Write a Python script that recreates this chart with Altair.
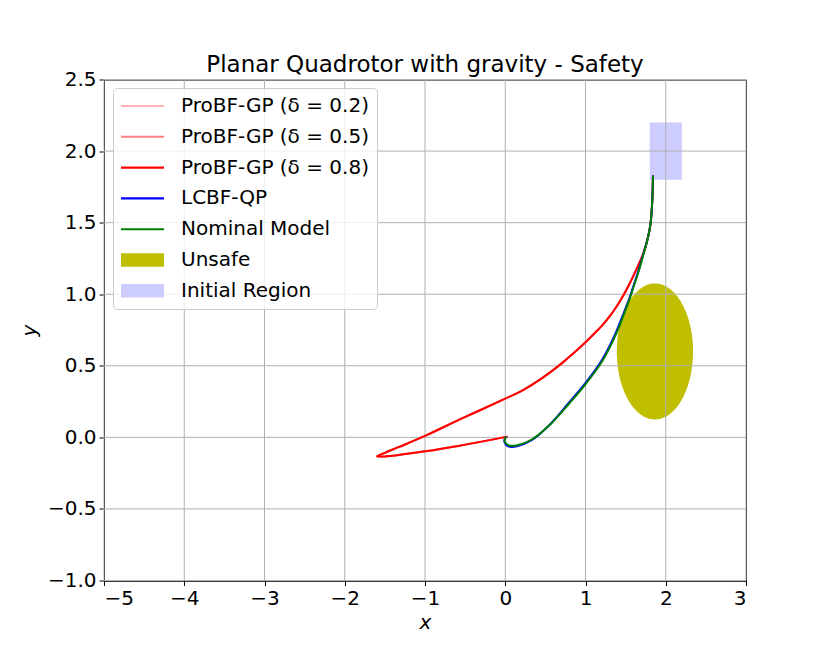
import altair as alt
import pandas as pd
import numpy as np

# ---------------- data ----------------
series_names = [
    "ProBF-GP (δ = 0.2)",
    "ProBF-GP (δ = 0.5)",
    "ProBF-GP (δ = 0.8)",
    "LCBF-QP",
    "Nominal Model",
    "Unsafe",
    "Initial Region",
]
series_colors = ["#ffb3b3", "#ff8080", "#ff0000", "#0000ff", "#008000", "#bfbf00", "#ccccff"]

# ProBF-GP trajectory (all three δ overlap)
probf_x = [1.841, 1.834, 1.812, 1.78, 1.72, 1.63, 1.53, 1.46, 1.4, 1.3, 1.2, 1.1, 1.0,
           0.85, 0.7, 0.45, 0.222, 0.0, -0.567, -1.0, -1.314, -1.50, -1.597, -1.5, -0.994,
           -0.567, 0.03]
probf_y = [1.829, 1.678, 1.50, 1.40, 1.284, 1.168, 1.052, 0.98, 0.925, 0.845, 0.777,
           0.72, 0.665, 0.588, 0.515, 0.41, 0.33, 0.27, 0.125, 0.01, -0.065, -0.108,
           -0.132, -0.134, -0.097, -0.058, 0.005]

# Nominal model trajectory
nominal_x = [1.841, 1.834, 1.812, 1.78, 1.725, 1.667, 1.60, 1.56, 1.467, 1.385, 1.218, 1.011,
             0.803, 0.56, 0.33, 0.15, 0.04, -0.005, 0.0, 0.02]
nominal_y = [1.829, 1.678, 1.50, 1.40, 1.284, 1.168, 1.052, 0.982, 0.843, 0.727, 0.541, 0.379,
             0.240, 0.09, -0.015, -0.055, -0.055, -0.03, -0.005, 0.004]

# LCBF-QP trajectory
lcbf_x = [1.841, 1.834, 1.812, 1.78, 1.722, 1.662, 1.594, 1.553, 1.458, 1.374, 1.205, 0.998,
          0.79, 0.548, 0.322, 0.145, 0.038, -0.008, -0.002, 0.02]
lcbf_y = [1.829, 1.678, 1.50, 1.40, 1.284, 1.168, 1.052, 0.982, 0.843, 0.727, 0.541, 0.379,
          0.240, 0.085, -0.022, -0.063, -0.063, -0.035, -0.006, 0.004]

# Unsafe ellipse (center, semi-axes) and initial region box
unsafe_center = (1.865, 0.60)
unsafe_radii = (0.475, 0.475)
init_box = {"x": 1.8, "x2": 2.2, "y": 1.8, "y2": 2.2}

x_ticks = [-5, -4, -3, -2, -1, 0, 1, 2, 3]
y_ticks = [-1.0, -0.5, 0.0, 0.5, 1.0, 1.5, 2.0, 2.5]

# ---------------- tables ----------------
rows = []
for name in series_names[:3]:
    for i, (xx, yy) in enumerate(zip(probf_x, probf_y)):
        rows.append({"series": name, "x": xx, "y": yy, "i": i})
for i, (xx, yy) in enumerate(zip(lcbf_x, lcbf_y)):
    rows.append({"series": "LCBF-QP", "x": xx, "y": yy, "i": i})
for i, (xx, yy) in enumerate(zip(nominal_x, nominal_y)):
    rows.append({"series": "Nominal Model", "x": xx, "y": yy, "i": i})
lines_df = pd.DataFrame(rows)

t = np.linspace(0, np.pi, 121)
ell_df = pd.DataFrame({
    "series": "Unsafe",
    "x": unsafe_center[0] + unsafe_radii[0] * np.cos(t),
    "y": unsafe_center[1] - unsafe_radii[1] * np.sin(t),
    "y2": unsafe_center[1] + unsafe_radii[1] * np.sin(t),
})
box_df = pd.DataFrame([dict(series="Initial Region", **init_box)])
legend_df = pd.DataFrame({"series": series_names})
xgrid_df = pd.DataFrame({"v": x_ticks})
ygrid_df = pd.DataFrame({"v": y_ticks})

# ---------------- scales ----------------
xs = alt.Scale(domain=[-5, 3], nice=False, zero=False)
ys = alt.Scale(domain=[-1, 2.5], nice=False, zero=False)
cs = alt.Scale(domain=series_names, range=series_colors)
# legend symbol paths (unit = 8 px at symbolSize 256): 43 px wide handles
LINE = "M-1.25,-0.13H4.125V0.13H-1.25Z"
PATCH = "M-1.25,-0.85H4.125V0.85H-1.25Z"
ss = alt.Scale(domain=series_names, range=[LINE, LINE, LINE, LINE, LINE, PATCH, PATCH])

FONT = "DejaVu Sans"
xaxis = alt.Axis(values=x_ticks, grid=False, title="x", titleFontStyle="italic",
                 labelExpr="replace(format(datum.value, 'd'), '-', '−')")
yaxis = alt.Axis(values=y_ticks, grid=False, title="y", titleFontStyle="italic",
                 labelExpr="replace(format(datum.value, '.1f'), '-', '−')")

ellipse = alt.Chart(ell_df).mark_area(opacity=1).encode(
    x=alt.X("x:Q", scale=xs, axis=xaxis),
    y=alt.Y("y:Q", scale=ys, axis=yaxis),
    y2="y2:Q",
    color=alt.Color("series:N", scale=cs, legend=None),
)
box = alt.Chart(box_df).mark_rect().encode(
    x=alt.X("x:Q", scale=xs), x2="x2:Q",
    y=alt.Y("y:Q", scale=ys), y2="y2:Q",
    color=alt.Color("series:N", scale=cs, legend=None),
)
xgrid = alt.Chart(xgrid_df).mark_rule(color="#b0b0b0", strokeWidth=1).encode(
    x=alt.X("v:Q", scale=xs))
ygrid = alt.Chart(ygrid_df).mark_rule(color="#b0b0b0", strokeWidth=1).encode(
    y=alt.Y("v:Q", scale=ys))
lines = alt.Chart(lines_df).mark_line(strokeWidth=2, interpolate="catmull-rom").encode(
    x=alt.X("x:Q", scale=xs),
    y=alt.Y("y:Q", scale=ys),
    order="i:Q",
    color=alt.Color("series:N", scale=cs, legend=None),
)
legend_pts = alt.Chart(legend_df).transform_filter("false").mark_point(
    filled=True, opacity=1).encode(
    color=alt.Color("series:N", scale=cs, title=None,
                    legend=alt.Legend(orient="none", legendX=9, legendY=8.5,
                                      symbolSize=256, symbolStrokeWidth=0,
                                      symbolOpacity=1, rowPadding=10.8,
                                      labelFontSize=20, labelFont=FONT, labelOffset=40,
                                      labelLimit=400, padding=8,
                                      fillColor="rgba(255,255,255,0.8)",
                                      strokeColor="#cccccc", cornerRadius=4)),
    shape=alt.Shape("series:N", scale=ss, title=None),
)

chart = alt.layer(ellipse, box, xgrid, ygrid, lines, legend_pts).resolve_scale(
    color="independent", shape="independent"
).properties(
    width=642, height=501,
    title=alt.Title("Planar Quadrotor with gravity - Safety", fontSize=23,
                    fontWeight="normal", font=FONT, offset=-7, color="black"),
    autosize=alt.AutoSizeParams(type="none"),
    padding={"left": 96, "top": 71.5, "right": 76, "bottom": 75.5},
).configure_view(stroke="black", strokeWidth=1).configure_axis(
    labelFont=FONT, labelFontSize=20, labelColor="black",
    titleFont=FONT, titleFontSize=20, titleColor="black", titleFontWeight="normal",
    domainColor="black", tickColor="black", tickSize=5, labelPadding=3,
).configure_axisX(titlePadding=4).configure_axisY(titlePadding=8)

chart.save("out.html", embed_options={"renderer": "svg", "actions": False})
